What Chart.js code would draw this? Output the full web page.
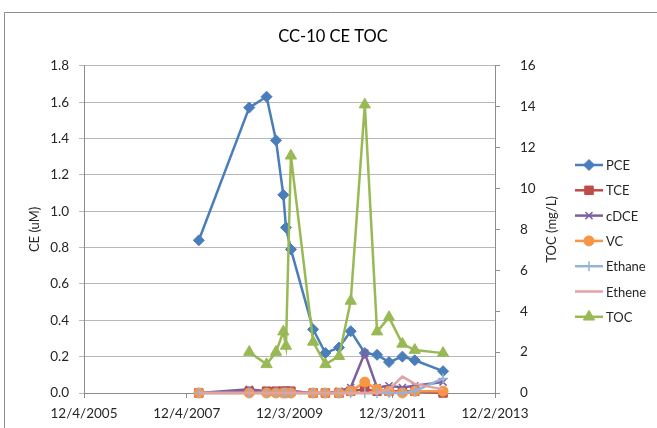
<!DOCTYPE html>
<html><head><meta charset="utf-8">
<script src="https://cdn.jsdelivr.net/npm/chart.js@4.4.0/dist/chart.umd.min.js"></script>
<style>html,body{margin:0;padding:0;background:#fff;overflow:hidden}#wrap{width:657px;height:428px;position:relative}canvas{display:block}</style>
</head><body><div id="wrap"><canvas id="c" width="657" height="428"></canvas></div>
<script>
// ---- data ----
const sampleDates = ['2008-02-28','2009-02-20','2009-06-23','2009-08-29','2009-10-20','2009-11-08','2009-12-13','2010-05-20','2010-08-15','2010-11-20','2011-02-11','2011-05-22','2011-08-17','2011-11-10','2012-02-13','2012-05-11','2012-11-28'];
const pce    = [0.84,1.57,1.63,1.39,1.09,0.91,0.79,0.35,0.22,0.25,0.34,0.22,0.21,0.17,0.20,0.18,0.12];
const tce    = [0.00,0.01,0.01,0.01,0.01,0.01,0.01,0.00,0.00,0.00,0.01,0.02,0.01,0.01,0.01,0.01,0.00];
const cdce   = [0.00,0.02,0.01,0.01,0.01,0.01,0.01,0.00,0.00,0.01,0.03,0.22,0.03,0.04,0.03,0.04,0.06];
const vc     = [0.00,0.00,0.00,0.00,0.00,0.00,0.00,0.00,0.00,0.00,0.01,0.06,0.02,0.01,0.00,0.01,0.01];
const ethane = [0.00,0.00,0.00,0.00,0.00,0.00,0.00,0.00,0.00,0.00,0.00,0.00,0.00,0.00,0.00,0.01,0.08];
const ethene = [0.00,0.00,0.00,0.00,0.00,0.00,0.00,0.00,0.00,0.00,0.00,0.00,0.00,0.02,0.09,0.05,0.02];
const toc    = [null,2.0,1.4,2.0,3.0,2.3,11.6,2.5,1.4,1.8,4.5,14.1,3.0,3.7,2.4,2.1,1.95];
const xTickDates = ['2005-12-04','2007-12-04','2009-12-03','2011-12-03','2013-12-02'];
const seriesNames = ['PCE','TCE','cDCE','VC','Ethane','Ethene','TOC'];

const DAY = 86400000;
function toDay(s){const p=s.split('-').map(Number);return Date.UTC(p[0],p[1]-1,p[2])/DAY;}
function fmt(d){const t=new Date(Math.round(d)*DAY);return (t.getUTCMonth()+1)+'/'+t.getUTCDate()+'/'+t.getUTCFullYear();}
const xDays = sampleDates.map(toDay);
const tickDays = xTickDates.map(toDay);
function pts(a){return a.map((v,i)=>({x:xDays[i],y:v})).filter(p=>p.y!==null);}

const FONT = 'Lato, "Liberation Sans", sans-serif';
const TXT = '#262626';
const styles = [
  {c:'#4A7EBB', p:'rectRot', r:5.5, axis:'y'},
  {c:'#BE4B48', p:'rect', r:6, axis:'y'},
  {c:'#7D60A0', p:'crossRot', r:5, axis:'y'},
  {c:'#F79646', p:'circle', r:5, axis:'y'},
  {c:'#95B3D7', p:'cross', r:5, axis:'y'},
  {c:'#E0A3A1', p:false, r:0, axis:'y'},
  {c:'#98B954', p:'triangle', r:6.5, axis:'y2'}
];
const values = [pce,tce,cdce,vc,ethane,ethene,toc];
const datasets = values.map((arr,i)=>({
  label: seriesNames[i],
  data: pts(arr),
  yAxisID: styles[i].axis,
  borderColor: styles[i].c,
  backgroundColor: styles[i].c,
  borderWidth: 2.5,
  pointStyle: styles[i].p,
  pointRadius: styles[i].r,
  pointBorderWidth: (styles[i].p==='cross'||styles[i].p==='crossRot')?1.5:1,
  pointBorderColor: styles[i].c,
  pointBackgroundColor: styles[i].c,
  tension: 0,
  clip: false,
  order: 6-i
}));

const deco = {
  id:'deco',
  afterDraw(chart){
    const ctx = chart.ctx;
    ctx.save();
    ctx.strokeStyle = '#8c8c8c'; ctx.lineWidth = 1;
    ctx.beginPath(); ctx.moveTo(4.5,428); ctx.lineTo(4.5,12.5); ctx.lineTo(657,12.5); ctx.stroke();
    const ca = chart.chartArea;
    ctx.fillStyle = TXT; ctx.font = '13px ' + FONT;
    ctx.textAlign = 'center'; ctx.textBaseline = 'middle';
    ctx.translate(552, (ca.top+ca.bottom)/2); ctx.rotate(-Math.PI/2);
    ctx.fillText('TOC (mg/L)', 0, 0);
    ctx.restore();
    ctx.save();
    const H = Chart.helpers;
    chart.data.datasets.forEach((ds,i)=>{
      const y = 165 + i*25.3;
      ctx.strokeStyle = ds.borderColor; ctx.lineWidth = 2.5;
      ctx.beginPath(); ctx.moveTo(575,y); ctx.lineTo(603,y); ctx.stroke();
      if (ds.pointStyle && H && H.drawPoint) {
        ctx.fillStyle = ds.pointBackgroundColor; ctx.strokeStyle = ds.pointBorderColor;
        ctx.lineWidth = ds.pointBorderWidth;
        H.drawPoint(ctx, {pointStyle: ds.pointStyle, radius: ds.pointRadius, rotation: 0, borderWidth: ds.pointBorderWidth}, 589, y);
      }
      ctx.fillStyle = TXT; ctx.font = '13px ' + FONT; ctx.textAlign='left'; ctx.textBaseline='middle';
      ctx.fillText(ds.label, 606, y+1);
    });
    ctx.restore();
  }
};

new Chart(document.getElementById('c'), {
  type: 'line',
  data: { datasets },
  options: {
    responsive: false, animation: false,
    layout: { padding: { left: 9, right: 0, top: 0, bottom: 0 } },
    plugins: {
      legend: { display: false },
      tooltip: { enabled: false },
      title: { display: true, text: 'CC-10 CE TOC', color: '#000', font: { family: FONT, size: 16.5, weight: 'normal' }, padding: { top: 27, bottom: 19 } }
    },
    scales: {
      x: {
        type: 'linear', position: 'bottom',
        min: tickDays[0], max: tickDays[tickDays.length-1],
        afterBuildTicks: s => { s.ticks = tickDays.map(v=>({value:v})); },
        afterFit: s => { s.height = 35; },
        ticks: { callback: v => fmt(v), autoSkip: false, maxRotation: 0, color: TXT, font: { family: FONT, size: 13.5 }, padding: 8 },
        grid: { drawOnChartArea: false, drawTicks: true, tickLength: 5, color: '#8c8c8c' },
        border: { display: true, color: '#8c8c8c' }
      },
      y: {
        position: 'left', min: 0, max: 1.8,
        afterFit: s => { s.width = 75; },
        ticks: { stepSize: 0.2, callback: v => v.toFixed(1), color: TXT, font: { family: FONT, size: 13.5 }, padding: 10 },
        grid: { color: '#b8b8b8', tickLength: 5 },
        border: { display: true, color: '#8c8c8c' },
        title: { display: true, text: 'CE (uM)', color: TXT, font: { family: FONT, size: 13 }, padding: { top: 18, bottom: 0 } }
      },
      y2: {
        position: 'right', min: 0, max: 16,
        afterFit: s => { s.width = 162; },
        ticks: { stepSize: 2, color: TXT, font: { family: FONT, size: 13.5 }, padding: 20 },
        grid: { drawOnChartArea: false, tickLength: 5, color: '#8c8c8c' },
        border: { display: true, color: '#8c8c8c' }
      }
    }
  },
  plugins: [deco]
});
</script></body></html>
